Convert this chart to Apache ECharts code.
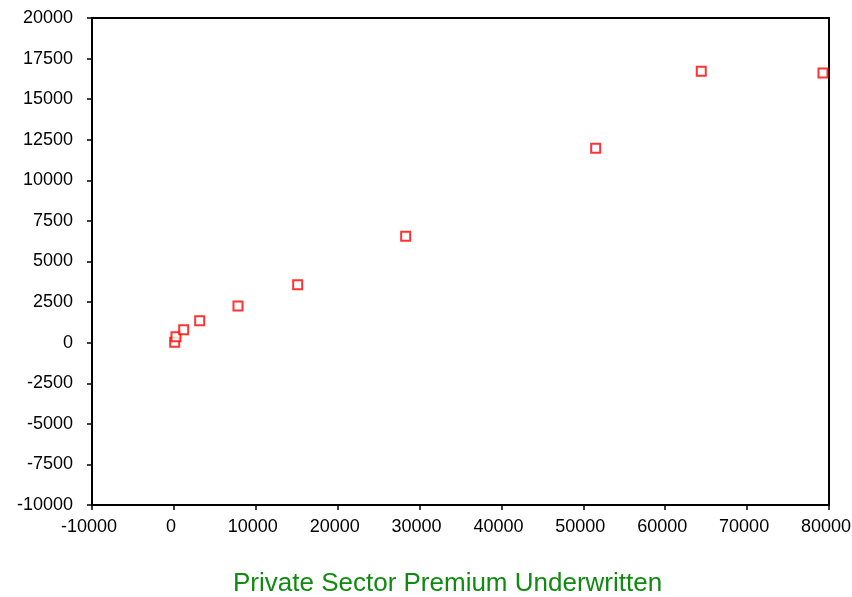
<!DOCTYPE html>
<html>
<head>
<meta charset="utf-8">
<script src="https://cdn.jsdelivr.net/npm/echarts@6/dist/echarts.min.js"></script>
<style>html,body{margin:0;padding:0;background:#fff;}#c{width:852px;height:597px;}</style>
</head>
<body>
<div id="c"></div>
<script>
const premiumX = [100, 256, 1197, 3150, 7828, 15118, 28306, 51508, 64404, 79265];
const valueY = [20, 370, 801, 1355, 2261, 3573, 6555, 11976, 16719, 16614];
const xAxisTitle = 'Private Sector Premium Underwritten';

const pts = premiumX.map((x, i) => [x, valueY[i]]);
const chart = echarts.init(document.getElementById('c'), null, {renderer: 'canvas'});
const lbl = {color: '#000', fontSize: 18, fontFamily: 'Liberation Sans, Arial, sans-serif', formatter: v => String(v)};
chart.setOption({
  animation: false,
  backgroundColor: '#fff',
  title: {
    text: xAxisTitle,
    left: 228, top: 566,
    textStyle: {color: '#118a11', fontSize: 26, fontWeight: 'normal', fontFamily: 'Liberation Sans, Arial, sans-serif'}
  },
  grid: {left: 92, top: 18, right: 23, bottom: 92, show: true, borderColor: '#000', borderWidth: 2, containLabel: false, outerBoundsMode: 'none'},
  xAxis: {
    type: 'value', min: -10000, max: 80000, interval: 10000,
    axisLine: {show: true, onZero: false, lineStyle: {color: '#000', width: 2}},
    axisTick: {show: true, inside: false, length: 5, lineStyle: {color: '#000', width: 1.5}},
    axisLabel: Object.assign({margin: 13, padding: [0, 6, 0, 0]}, lbl),
    splitLine: {show: false}
  },
  yAxis: {
    type: 'value', min: -10000, max: 20000, interval: 2500,
    axisLine: {show: true, onZero: false, lineStyle: {color: '#000', width: 2}},
    axisTick: {show: true, inside: false, length: 5, lineStyle: {color: '#000', width: 1.5}},
    axisLabel: Object.assign({margin: 19}, lbl),
    splitLine: {show: false}
  },
  series: [{
    type: 'scatter',
    data: pts,
    symbol: 'rect',
    symbolSize: 9,
    itemStyle: {color: '#fff', borderColor: '#ff0000', borderWidth: 2}
  }]
});
</script>
</body>
</html>
